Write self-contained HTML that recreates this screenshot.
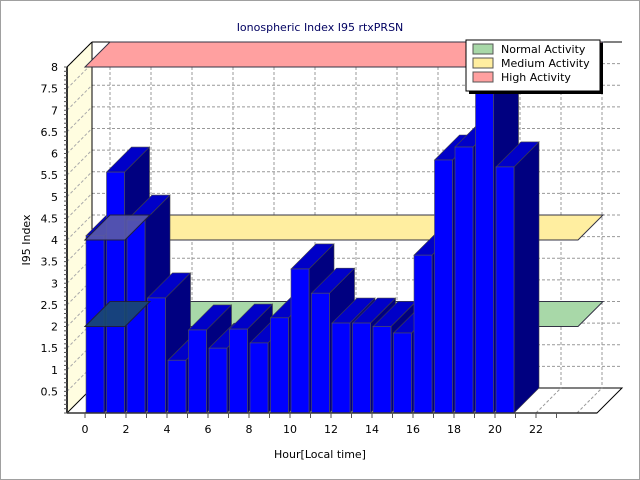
<!DOCTYPE html>
<html><head><meta charset="utf-8"><style>
html,body{margin:0;padding:0;background:#fff}
svg{display:block}
text{font-family:"DejaVu Sans","Liberation Sans",sans-serif;font-size:11px;fill:#000}
</style></head><body>
<svg id="c" width="640" height="480" xmlns="http://www.w3.org/2000/svg">
<rect x="0.5" y="0.5" width="639" height="479" fill="#fff" stroke="#a0a0a0"/>
<g id="g"></g>
<text x="320" y="31" text-anchor="middle" style="fill:#000060">Ionospheric Index I95 rtxPRSN</text>
<text x="320" y="458" text-anchor="middle">Hour[Local time]</text>
<text transform="translate(30,240) rotate(-90)" text-anchor="middle">I95 Index</text>
<g id="yl"></g>
<g id="xl"></g>
<rect x="469" y="43" width="134" height="51" fill="#000"/>
<rect x="466" y="40" width="134" height="51" fill="#fff" stroke="#000"/>
<rect x="473" y="44" width="20" height="10" fill="#a8d8a8" stroke="#555"/>
<rect x="473" y="58" width="20" height="10" fill="#ffeea0" stroke="#555"/>
<rect x="473" y="72" width="20" height="10" fill="#ffa0a0" stroke="#555"/>
<text x="501" y="53">Normal Activity</text>
<text x="501" y="67">Medium Activity</text>
<text x="501" y="81">High Activity</text>
</svg>
<script>
var NS="http://www.w3.org/2000/svg",g=document.getElementById('g');
function el(t,a,p){var e=document.createElementNS(NS,t);for(var k in a)e.setAttribute(k,a[k]);(p||g).appendChild(e);return e;}
function Y(v){return 413-v*43.25;}
var D=25;
el('rect',{x:92,y:42,width:530,height:346,fill:'#fff'});
el('polygon',{points:'67,67 92,42 92,388 67,413',fill:'#fffde0',stroke:'#888','stroke-width':0.5});
el('polygon',{points:'67,413 92,388 622,388 597,413',fill:'#fff',stroke:'#000'});
for(var v=0.5;v<=8;v+=0.5){var y=Y(v);
 el('line',{x1:92,y1:y-D,x2:622,y2:y-D,stroke:'#999','stroke-dasharray':'3,2'});
 el('line',{x1:67,y1:y,x2:92,y2:y-D,stroke:'#aaa','stroke-dasharray':'3,2'});
}
for(var k=0;k<=12;k++){var x=110+41*k;
 el('line',{x1:x,y1:42,x2:x,y2:388,stroke:'#999','stroke-dasharray':'3,2'});
 el('line',{x1:x-25,y1:413,x2:x,y2:388,stroke:'#999','stroke-dasharray':'3,2'});
}
el('line',{x1:92,y1:42,x2:622,y2:42,stroke:'#000'});
el('line',{x1:92,y1:42,x2:92,y2:388,stroke:'#000'});
el('line',{x1:67,y1:67,x2:92,y2:42,stroke:'#000'});
function band(v,c,op){var y=Y(v);
 el('polygon',{points:'85,'+y+' 110,'+(y-D)+' 603,'+(y-D)+' 578,'+y,fill:c,stroke:'#334','stroke-width':1,opacity:op});}
band(2,'#a8d8a8',1);band(4,'#ffeea0',1);band(8,'#ffa0a0',1);
var vals=[4.1,5.57,4.46,2.66,1.22,1.92,1.5,1.94,1.62,2.2,3.33,2.77,2.08,2.08,2.0,1.85,3.65,5.85,6.15,7.58,5.69];
for(var h=0;h<vals.length;h++){var x0=86+20.5*h,x1=x0+18,yt=Y(vals[h]),yb=413;
 el('polygon',{points:x1+','+yt+' '+(x1+D)+','+(yt-D)+' '+(x1+D)+','+(yb-D)+' '+x1+','+yb,fill:'#000080',stroke:'#444','stroke-width':0.6});
 el('polygon',{points:x0+','+yt+' '+(x0+D)+','+(yt-D)+' '+(x1+D)+','+(yt-D)+' '+x1+','+yt,fill:'#0000c8',stroke:'#444','stroke-width':0.6});
 el('rect',{x:x0,y:yt,width:18,height:yb-yt,fill:'#0000ff',stroke:'#555','stroke-width':0.6});
}
[[2,'#1a4a70'],[4,'#5a5aa8']].forEach(function(b){var y=Y(b[0]);
 el('polygon',{points:'85,'+y+' 110,'+(y-D)+' 150,'+(y-D)+' 125,'+y,fill:b[1],opacity:0.9,stroke:'#223','stroke-width':1});});
el('line',{x1:67,y1:67,x2:67,y2:413,stroke:'#333','stroke-width':2});
el('line',{x1:67,y1:413,x2:597,y2:413,stroke:'#333','stroke-width':1.5});
var yl=document.getElementById('yl');
for(var v=0;v<=8.001;v+=0.1){var y=Y(v);el('line',{x1:64,y1:y,x2:67,y2:y,stroke:'#555'});}
for(var v=0.5;v<=8;v+=0.5){var t=el('text',{x:58,y:Y(v)+4,'text-anchor':'end'},yl);t.textContent=(Math.round(v*10)/10).toString();}
var xl=document.getElementById('xl');
for(var h=0;h<=23;h++){var x=85+20.5*h;el('line',{x1:x,y1:413,x2:x,y2:418,stroke:'#555'});
 if(h%2==0&&h<=22){var t=el('text',{x:x,y:433,'text-anchor':'middle'},xl);t.textContent=h;}}
</script>
</body></html>
